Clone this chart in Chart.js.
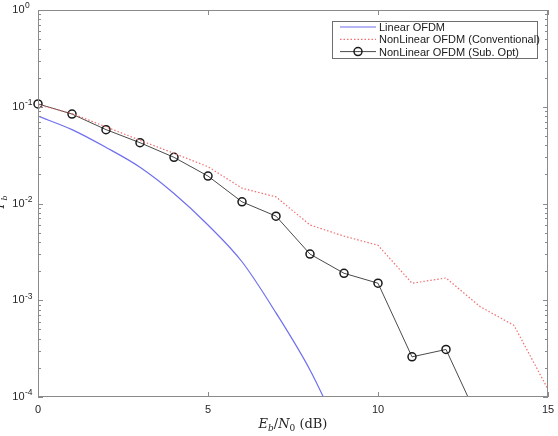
<!DOCTYPE html>
<html lang="en">
<head>
    <meta charset="UTF-8">
    <title>BER vs Eb/N0</title>
    <style>
        body {
            margin: 0;
            padding: 0;
            background-color: #ffffff;
        }

        .chart-container {
            width: 558px;
            height: 436px;
        }
    </style>
</head>
<body>
    <div class="chart-container">
        <canvas id="berChart" width="558" height="436"></canvas>
    </div>

    <script src="https://cdn.jsdelivr.net/npm/chart.js"></script>
    <script>
        // Eb/N0 points (dB)
        const ebn0 = [0, 1, 2, 3, 4, 5, 6, 7, 8, 9, 10, 11, 12, 13, 14, 15];

        // bit error rate
        const linearBer = [0.080, 0.058, 0.038, 0.0237, 0.0127, 0.0060, 0.0025, 0.00074, 0.00019, 0.000035];
        const convBer = [0.105, 0.085, 0.062, 0.045, 0.033, 0.024, 0.0144, 0.0117, 0.0060, 0.0046, 0.0037, 0.0015, 0.0017, 0.00086, 0.00055, 0.00012];
        const subOptBer = [0.107, 0.084, 0.058, 0.0425, 0.030, 0.0192, 0.0104, 0.0074, 0.0030, 0.0019, 0.0015, 0.00026, 0.00031, 0.000054];

        const xTicks = [0, 5, 10, 15];
        const yDecades = [1e-4, 1e-3, 1e-2, 1e-1, 1];
        const yExponents = ['-4', '-3', '-2', '-1', '0'];

        const seriesNames = ['Linear OFDM', 'NonLinear OFDM (Conventional)', 'NonLinear OFDM (Sub. Opt)'];

        function toPoints(ys) {
            return ys.map(function(y, i) { return { x: ebn0[i], y: y }; });
        }

        // box, inward ticks, exponents, axis titles and legend
        const matlabLook = {
            id: 'matlabLook',
            afterDraw: function(chart) {
                const ctx = chart.ctx;
                const a = chart.chartArea;
                const xs = chart.scales.x;
                const ys = chart.scales.y;
                ctx.save();
                ctx.strokeStyle = '#8a8a8a';
                ctx.lineWidth = 1;
                ctx.strokeRect(a.left + 0.5, a.top + 0.5, a.right - a.left - 1, a.bottom - a.top - 1);

                ctx.beginPath();
                xTicks.forEach(function(v) {
                    const px = Math.round(xs.getPixelForValue(v)) + 0.5;
                    ctx.moveTo(px, a.bottom); ctx.lineTo(px, a.bottom - 5);
                    ctx.moveTo(px, a.top); ctx.lineTo(px, a.top + 5);
                });
                for (let e = -4; e <= 0; e++) {
                    for (let m = 1; m <= 9; m++) {
                        const v = m * Math.pow(10, e);
                        if (v > 1) break;
                        const len = m === 1 ? 5 : 3;
                        const py = Math.round(ys.getPixelForValue(v)) + 0.5;
                        ctx.moveTo(a.left, py); ctx.lineTo(a.left + len, py);
                        ctx.moveTo(a.right, py); ctx.lineTo(a.right - len, py);
                    }
                }
                ctx.stroke();

                // exponents of the y tick labels
                ctx.fillStyle = '#262626';
                ctx.font = '8.5px "Liberation Sans"';
                ctx.textAlign = 'left';
                ctx.textBaseline = 'middle';
                yDecades.forEach(function(v, i) {
                    ctx.fillText(yExponents[i], 25, ys.getPixelForValue(v) - 4);
                });

                // x title: Eb/N0 (dB)
                ctx.textBaseline = 'alphabetic';
                const parts = [
                    ['E', 'italic 13px "DejaVu Serif"', 0],
                    ['b', 'italic 9px "DejaVu Serif"', 3],
                    ['/', '13px "DejaVu Serif"', 0],
                    ['N', 'italic 13px "DejaVu Serif"', 0],
                    ['0', '9px "DejaVu Serif"', 3],
                    [' (dB)', '13px "DejaVu Serif"', 0]
                ];
                let total = 0;
                parts.forEach(function(p) { ctx.font = p[1]; total += ctx.measureText(p[0]).width; });
                let cx = (a.left + a.right) / 2 - total / 2;
                parts.forEach(function(p) {
                    ctx.font = p[1];
                    ctx.fillText(p[0], cx, 428 + p[2]);
                    cx += ctx.measureText(p[0]).width;
                });

                // y title: Pb (mostly cut off at the left edge)
                ctx.save();
                ctx.translate(4, (a.top + a.bottom) / 2);
                ctx.rotate(-Math.PI / 2);
                ctx.font = 'italic 12px "DejaVu Serif"';
                ctx.fillText('P', -5, 0);
                ctx.font = 'italic 8px "DejaVu Serif"';
                ctx.fillText('b', 3, 3);
                ctx.restore();

                // legend
                const lx = 332, ly = 21, lw = 205, lh = 37;
                ctx.fillStyle = '#ffffff';
                ctx.fillRect(lx, ly, lw, lh);
                ctx.strokeStyle = '#6e6e6e';
                ctx.strokeRect(lx + 0.5, ly + 0.5, lw, lh);
                ctx.font = '11px "Liberation Sans"';
                ctx.textBaseline = 'middle';
                chart.data.datasets.forEach(function(ds, i) {
                    const yy = ly + 6 + i * 12.3;
                    ctx.save();
                    ctx.strokeStyle = ds.borderColor;
                    ctx.lineWidth = ds.borderWidth;
                    ctx.setLineDash(ds.borderDash || []);
                    ctx.beginPath();
                    ctx.moveTo(lx + 8, yy); ctx.lineTo(lx + 44, yy);
                    ctx.stroke();
                    if (ds.pointRadius > 0) {
                        ctx.setLineDash([]);
                        ctx.strokeStyle = ds.pointBorderColor;
                        ctx.lineWidth = ds.pointBorderWidth;
                        ctx.beginPath();
                        ctx.arc(lx + 26, yy, ds.pointRadius, 0, Math.PI * 2);
                        ctx.stroke();
                    }
                    ctx.restore();
                    ctx.fillStyle = '#1a1a1a';
                    ctx.fillText(ds.label, lx + 47, yy + 1);
                });
                ctx.restore();
            }
        };

        const config = {
            type: 'line',
            data: {
                datasets: [{
                    label: seriesNames[0],
                    data: toPoints(linearBer),
                    borderColor: '#6f6ff0',
                    borderWidth: 1.2,
                    pointRadius: 0,
                    cubicInterpolationMode: 'monotone'
                }, {
                    label: seriesNames[1],
                    data: toPoints(convBer),
                    borderColor: '#f07070',
                    borderWidth: 1.2,
                    borderDash: [1.5, 2],
                    pointRadius: 0
                }, {
                    label: seriesNames[2],
                    data: toPoints(subOptBer),
                    borderColor: '#4a4a4a',
                    borderWidth: 1,
                    pointRadius: 4,
                    pointBorderColor: '#1a1a1a',
                    pointBorderWidth: 1.5,
                    pointBackgroundColor: 'rgba(0,0,0,0)',
                    clip: { left: 8, top: 8, right: 8, bottom: 0 }
                }]
            },
            options: {
                responsive: false,
                animation: false,
                layout: { padding: { top: 10, right: 10, left: 0, bottom: 0 } },
                plugins: {
                    legend: { display: false },
                    tooltip: { enabled: false }
                },
                scales: {
                    x: {
                        type: 'linear',
                        min: 0,
                        max: 15,
                        grid: { display: false, drawTicks: false },
                        border: { display: false },
                        afterBuildTicks: function(scale) {
                            scale.ticks = xTicks.map(function(v) { return { value: v }; });
                        },
                        afterFit: function(scale) {
                            scale.height = 39;
                            scale.paddingLeft = 0;
                            scale.paddingRight = 0;
                        },
                        ticks: {
                            color: '#262626',
                            font: { family: 'Liberation Sans', size: 11 },
                            padding: 6,
                            maxRotation: 0
                        }
                    },
                    y: {
                        type: 'logarithmic',
                        min: 1e-4,
                        max: 1,
                        grid: { display: false, drawTicks: false },
                        border: { display: false },
                        afterBuildTicks: function(scale) {
                            scale.ticks = yDecades.map(function(v) { return { value: v }; });
                        },
                        afterFit: function(scale) {
                            scale.width = 38;
                            scale.paddingTop = 0;
                            scale.paddingBottom = 0;
                        },
                        ticks: {
                            color: '#262626',
                            font: { family: 'Liberation Sans', size: 11 },
                            padding: 13.5,
                            callback: function() { return '10'; }
                        }
                    }
                }
            },
            plugins: [matlabLook]
        };

        window.onload = function() {
            const ctx = document.getElementById('berChart').getContext('2d');
            new Chart(ctx, config);
        };
    </script>
</body>
</html>
